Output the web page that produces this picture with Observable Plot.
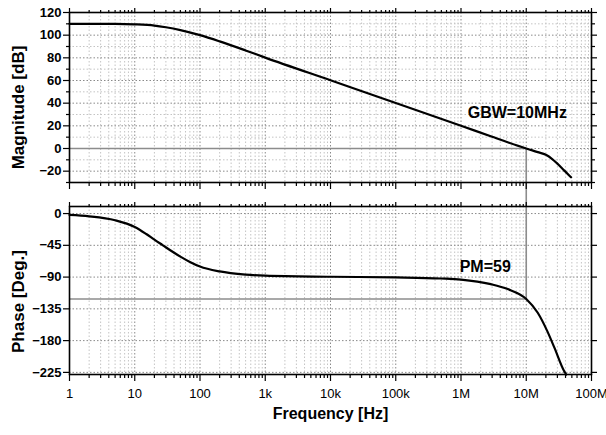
<!DOCTYPE html>
<html><head><meta charset="utf-8">
<script src="https://cdn.jsdelivr.net/npm/d3@7"></script>
<script src="https://cdn.jsdelivr.net/npm/@observablehq/plot@0.6"></script>
<style>
html,body{margin:0;padding:0;background:#fff;}
#chart{width:606px;height:435px;line-height:0;}
#chart svg{display:block;}
</style></head><body><div id="chart"></div>
<script>
// ---- data ----
const magFreq = [1, 2, 5, 10, 20, 30, 50, 100, 200, 500, 1e3, 1e4, 1e5, 1e6, 3e6, 1e7, 1.5e7, 2e7, 2.5e7, 3e7, 3.84e7, 4.86e7];
const magDb   = [110, 110, 110, 109.6, 108.5, 107, 104.5, 100, 94.5, 86.5, 80.2, 60.2, 40.2, 20.1, 10.3, 0, -3.2, -5.6, -9.3, -13.3, -19.5, -25.4];
const phaseFreq = [1, 2, 5, 10, 15, 20, 27, 35, 50, 70, 100, 200, 500, 1e3, 1e4, 1e5, 4.9e5, 1e6, 2.86e6, 5.2e6, 1e7, 1.5e7, 2.1e7, 2.7e7, 3.8e7, 4.1e7];
const phaseDeg  = [-2, -4, -9.5, -19, -29, -37, -45, -52, -61, -68.5, -75, -82, -86.5, -88, -89.5, -90.5, -92, -93.5, -100, -107, -121, -140.5, -166.5, -190, -223, -228];
const decadeTicks  = [1, 10, 100, 1e3, 1e4, 1e5, 1e6, 1e7, 1e8];
const decadeLabels = ["1", "10", "100", "1k", "10k", "100k", "1M", "10M", "100M"];
const magMajorTicks = [120, 100, 80, 60, 40, 20, 0, -20];
const magMinorTicks = [110, 90, 70, 50, 30, 10, -10, -30];
const phaseTicks = [0, -45, -90, -135, -180, -225];
const gbwFreq = 1e7;           // unity-gain frequency
const pmPhase = -121;          // phase at GBW (PM = 59)
const annotationsMag   = [{label: "GBW=10MHz", f: 7.3e6, v: 31}];
const annotationsPhase = [{label: "PM=59", f: 2.35e6, v: -75}];

const font = "'Liberation Sans', Arial, Helvetica, sans-serif";
const minorFreq = decadeTicks.slice(0, -1).flatMap(d => [2,3,4,5,6,7,8,9].map(k => d * k));
const mag = magFreq.map((f, i) => ({f, v: magDb[i]}));
const phase = phaseFreq.map((f, i) => ({f, v: phaseDeg[i]}));
const blank = () => "";
const gridMinor = {stroke: "#c4c4c4", strokeOpacity: 1, strokeDasharray: "1.5,2", strokeWidth: 1};
const gridMajor = {stroke: "#8a8a8a", strokeOpacity: 1, strokeDasharray: "1.5,2", strokeWidth: 1};
const refLine = {stroke: "#8c8c8c", strokeWidth: 1.6};
const tickStyle = {strokeWidth: 1.2, label: null};

function frameAxes(yMajor, yMinor) {
  const m = [
    Plot.axisX(decadeTicks, {anchor: "top", tickSize: 5, tickFormat: blank, ...tickStyle}),
    Plot.axisX(minorFreq, {anchor: "top", tickSize: 3, tickFormat: blank, ...tickStyle}),
    Plot.axisY(yMajor, {anchor: "left", tickSize: 6, tickPadding: 2, fontSize: 13, fontWeight: "bold", ...tickStyle}),
    Plot.axisY(yMajor, {anchor: "right", tickSize: 5, tickFormat: blank, ...tickStyle})
  ];
  if (yMinor) {
    m.push(Plot.axisY(yMinor, {anchor: "left", tickSize: 3, tickFormat: blank, ...tickStyle}));
    m.push(Plot.axisY(yMinor, {anchor: "right", tickSize: 3, tickFormat: blank, ...tickStyle}));
  }
  return m;
}

const topPlot = Plot.plot({
  width: 606, height: 194,
  marginLeft: 69, marginRight: 15, marginTop: 12, marginBottom: 12,
  style: {fontFamily: font, color: "black", background: "transparent"},
  x: {type: "log", domain: [1, 1e8]},
  y: {domain: [-30, 120]},
  marks: [
    Plot.gridX(minorFreq, gridMinor),
    Plot.gridX(decadeTicks, gridMajor),
    Plot.gridY(magMinorTicks, gridMinor),
    Plot.gridY(magMajorTicks, gridMajor),
    Plot.ruleY([0], {x1: 1, x2: gbwFreq, ...refLine}),
    Plot.ruleX([gbwFreq], {y1: 0, y2: -42, ...refLine}),
    Plot.line(mag, {x: "f", y: "v", curve: "monotone-x", stroke: "black", strokeWidth: 2.2}),
    Plot.text(annotationsMag, {x: "f", y: "v", text: "label", fontSize: 16, fontWeight: "bold"}),
    Plot.axisX(decadeTicks, {anchor: "bottom", tickSize: 7, tickFormat: blank, ...tickStyle}),
    Plot.axisX(minorFreq, {anchor: "bottom", tickSize: 4, tickFormat: blank, ...tickStyle}),
    ...frameAxes(magMajorTicks, magMinorTicks),
    Plot.frame({stroke: "black", strokeWidth: 1.6}),
    Plot.text(["Magnitude [dB]"], {text: d => d, frameAnchor: "left", textAnchor: "middle", rotate: -90, dx: -51, dy: 10, fontSize: 17, fontWeight: "bold"})
  ]
});

const bottomPlot = Plot.plot({
  width: 606, height: 241,
  marginLeft: 69, marginRight: 15, marginTop: 12, marginBottom: 61,
  style: {fontFamily: font, color: "black", background: "transparent"},
  x: {type: "log", domain: [1, 1e8]},
  y: {domain: [-228, 10]},
  marks: [
    Plot.gridX(minorFreq, gridMinor),
    Plot.gridX(decadeTicks, gridMajor),
    Plot.gridY(phaseTicks, gridMajor),
    Plot.ruleY([pmPhase], {x1: 1, x2: gbwFreq, ...refLine}),
    Plot.ruleX([gbwFreq], {y1: 28, y2: pmPhase, ...refLine}),
    Plot.line(phase, {x: "f", y: "v", curve: "monotone-x", stroke: "black", strokeWidth: 2.2}),
    Plot.text(annotationsPhase, {x: "f", y: "v", text: "label", fontSize: 16, fontWeight: "bold"}),
    Plot.axisX(decadeTicks, {anchor: "bottom", tickSize: 7, tickPadding: 7, fontSize: 13,
      tickFormat: d => decadeLabels[decadeTicks.indexOf(d)], ...tickStyle}),
    Plot.axisX(minorFreq, {anchor: "bottom", tickSize: 4, tickFormat: blank, ...tickStyle}),
    ...frameAxes(phaseTicks, null),
    Plot.frame({stroke: "black", strokeWidth: 1.6}),
    Plot.text(["Phase [Deg.]"], {text: d => d, frameAnchor: "left", textAnchor: "middle", rotate: -90, dx: -51, dy: 11, fontSize: 17, fontWeight: "bold"}),
    Plot.text(["Frequency [Hz]"], {text: d => d, frameAnchor: "bottom", textAnchor: "middle", dy: 44, fontSize: 16, fontWeight: "bold"})
  ]
});

const chart = document.getElementById("chart");
chart.append(topPlot, bottomPlot);
</script>
</body></html>
